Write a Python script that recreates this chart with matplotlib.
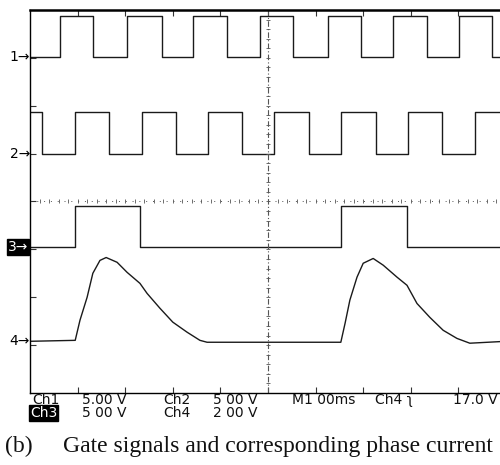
import numpy as np
import matplotlib
matplotlib.use("Agg")
import matplotlib.pyplot as plt

# time axis in ms (1.00 ms/div), vertical in scope divisions
t_end = 10.0

# Ch1 gate signal: edge times (ms), starts low
ch1_edges = [0.63, 1.32, 2.04, 2.77, 3.42, 4.14, 4.83, 5.53, 6.26, 6.95, 7.63, 8.34, 9.01, 9.71]
ch1_low, ch1_high = 3.02, 3.88

# Ch2 gate signal: edge times (ms), starts high
ch2_edges = [0.25, 0.95, 1.66, 2.35, 3.07, 3.74, 4.45, 5.13, 5.86, 6.53, 7.27, 7.94, 8.66, 9.35]
ch2_low, ch2_high = 0.99, 1.87

# Ch3 gate signal: edge times (ms), starts low
ch3_edges = [0.95, 2.31, 6.53, 7.92]
ch3_low, ch3_high = -0.95, -0.09

# Ch4 phase current (divisions above its ground marker)
ch4_ground = -2.92
ch4_t = [0.0, 0.95, 1.05, 1.20, 1.32, 1.47, 1.60, 1.83, 2.04, 2.31, 2.46, 2.73, 3.00, 3.30,
         3.57, 3.72, 6.53, 6.62, 6.72, 6.87, 7.00, 7.21, 7.42, 7.71, 7.92, 8.13, 8.40, 8.68,
         8.97, 9.24, 10.0]
ch4_level = [0.0, 0.02, 0.44, 0.92, 1.42, 1.69, 1.75, 1.65, 1.44, 1.21, 1.00, 0.69, 0.40, 0.19,
             0.02, -0.02, -0.02, 0.38, 0.86, 1.34, 1.63, 1.73, 1.59, 1.34, 1.17, 0.79, 0.50, 0.23,
             0.06, -0.04, 0.0]

line1 = [("Ch1", 32), ("5.00 V", 82), ("Ch2", 163), ("5 00 V", 213), ("M1 00ms", 292),
         ("Ch4 \u0285", 375), ("17.0 V", 453)]
line2 = [("5 00 V", 82), ("Ch4", 163), ("2 00 V", 213)]
caption_label = "(b)"
caption_text = "Gate signals and corresponding phase current"


def square_wave(edges, low, high, start_high):
    times = [0.0]
    levels = [high if start_high else low]
    state = start_high
    for e in edges:
        times += [e, e]
        levels += [high if state else low, low if state else high]
        state = not state
    times.append(t_end)
    levels.append(levels[-1])
    return times, levels


W, H = 500, 465
fig = plt.figure(figsize=(W / 100, H / 100), dpi=100)
ax = fig.add_axes([30 / W, 72 / H, 476 / W, 383 / H])
ax.set_xlim(0, t_end)
ax.set_ylim(-4, 4)

trace = dict(color="#1a1a1a", lw=1.0)
for edges, lo, hi, sh in [(ch1_edges, ch1_low, ch1_high, False),
                          (ch2_edges, ch2_low, ch2_high, True),
                          (ch3_edges, ch3_low, ch3_high, False)]:
    tt, yy = square_wave(edges, lo, hi, sh)
    ax.plot(tt, yy, **trace)
ax.plot(ch4_t, np.array(ch4_level) + ch4_ground, **trace)

# graticule centre lines
grid_c = "#555555"
ax.axvline(5, color=grid_c, lw=0.8, ls=(0, (5, 2, 1, 2)))
ax.axhline(0, color=grid_c, lw=0.7, ls=(0, (1, 6)))
minor = np.arange(0.2, t_end, 0.2)
ax.plot(minor, np.zeros_like(minor), ls="none", marker="|", ms=2.5, color=grid_c, mew=0.6)
vminor = np.arange(-3.8, 4, 0.2)
ax.plot(np.full_like(vminor, 5), vminor, ls="none", marker="_", ms=2.5, color=grid_c, mew=0.6)

ax.spines["right"].set_visible(False)
ax.spines["top"].set_linewidth(1.8)
ax.spines["left"].set_linewidth(1.0)
ax.spines["bottom"].set_linewidth(1.0)
ax.set_xticks(np.arange(1, 10))
ax.set_yticks(np.arange(-3, 4))
ax.tick_params(direction="in", length=4, width=0.8, labelleft=False, labelbottom=False,
               top=True, color="#333333")

# channel ground markers
marker_font = dict(fontsize=10, family="DejaVu Sans", va="center", ha="right")
for lab, y in [("1\u2192", ch1_low), ("2\u2192", ch2_low), ("4\u2192", ch4_ground)]:
    ax.annotate(lab, xy=(0, y), xycoords=("axes fraction", "data"), **marker_font)
ax.annotate("3\u2192", xy=(-0.004, ch3_low), xycoords=("axes fraction", "data"), color="white",
            bbox=dict(boxstyle="square,pad=0.05", fc="black", ec="black"), **marker_font)

# scope readout
txt = dict(fontsize=10, family="DejaVu Sans", va="center", ha="left", color="#111111")
for s, x in line1:
    fig.text(x / W, 1 - 399.5 / H, s, **txt)
fig.text(30 / W, 1 - 413 / H, "Ch3", color="white",
         bbox=dict(boxstyle="square,pad=0.05", fc="black", ec="black"),
         **{k: v for k, v in txt.items() if k != "color"})
for s, x in line2:
    fig.text(x / W, 1 - 413 / H, s, **txt)

cap = dict(fontsize=17, family="Liberation Serif", va="center", ha="left", color="#111111")
fig.text(5 / W, 1 - 446 / H, caption_label, **cap)
fig.text(63 / W, 1 - 446 / H, caption_text, **cap)

fig.savefig("out.png", dpi=100)
